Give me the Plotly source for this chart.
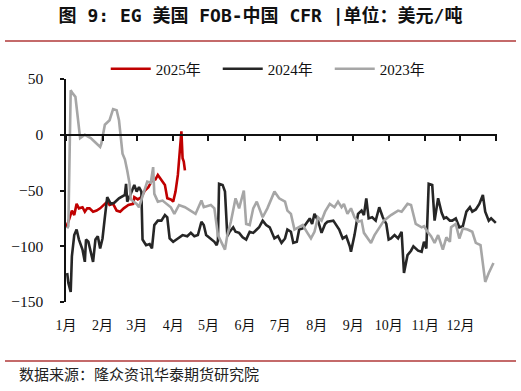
import plotly.graph_objects as go

# ---------------- data (month-day on a common-year axis) ----------------
dates_2025 = ["01-01","01-03","01-06","01-08","01-10","01-12","01-15","01-17","01-19","01-21",
              "01-24","01-27","01-30","02-02","02-05","02-07","02-10","02-13","02-16","02-19",
              "02-23","02-27","02-28","03-02","03-05","03-08","03-11","03-14","03-17","03-19",
              "03-22","03-25","03-27","03-30","04-01","04-03","04-05","04-06","04-08","04-09",
              "04-10","04-11"]
vals_2025 = [-83,-78,-68,-72,-62,-66,-65,-69,-66,-66,
             -69,-68,-66,-63,-60,-63,-62,-68,-69,-66,
             -63,-62,-56,-58,-56,-50,-47,-41,-40,-36,
             -41,-45,-57,-58,-60,-51,-36,-21,3,-21,
             -24,-32]

dates_2024 = ["01-02","01-03","01-05","01-06","01-08","01-10","01-12","01-15","01-17","01-18",
              "01-20","01-22","01-24","01-26","01-28","01-30","02-01","02-03","02-05","02-08",
              "02-11","02-15","02-20","02-21","02-22","02-25","02-28","03-01","03-03","03-05",
              "03-06","03-09","03-12","03-14","03-16","03-19","03-22","03-25","03-27","03-29",
              "04-01","04-05","04-09","04-13","04-16","04-19","04-22","04-25","04-27","04-29",
              "05-03","05-06","05-08","05-09","05-10","05-13","05-15","05-17","05-19","05-22",
              "05-24","05-27","05-30","06-02","06-05","06-08","06-11","06-13","06-16","06-19",
              "06-22","06-26","06-29","07-02","07-05","07-07","07-10","07-12","07-15","07-17",
              "07-20","07-23","07-26","07-28","07-30","08-02","08-05","08-08","08-10","08-15",
              "08-17","08-20","08-23","08-26","08-29","08-30","09-02","09-05","09-08","09-10",
              "09-12","09-14","09-17","09-20","09-23","09-26","09-29","10-01","10-03","10-06",
              "10-09","10-12","10-14","10-17","10-20","10-22","10-26","10-29","10-31","11-02",
              "11-04","11-07","11-09","11-12","11-15","11-17","11-19","11-22","11-24","11-27",
              "11-30","12-03","12-06","12-09","12-11","12-14","12-17","12-20","12-22","12-25",
              "12-27","12-31"]
vals_2024 = [-124,-133,-141,-109,-90,-85,-94,-103,-114,-94,
             -96,-105,-114,-94,-91,-102,-93,-74,-56,-62,
             -61,-57,-54,-44,-60,-53,-45,-51,-47,-51,
             -94,-99,-98,-102,-81,-77,-77,-72,-74,-93,
             -96,-93,-90,-91,-88,-91,-90,-78,-81,-90,
             -93,-96,-99,-95,-44,-45,-51,-91,-87,-83,
             -87,-88,-92,-94,-87,-88,-85,-83,-77,-81,
             -83,-93,-91,-97,-93,-85,-87,-97,-96,-85,
             -84,-80,-75,-80,-71,-77,-88,-80,-78,-77,
             -80,-85,-93,-91,-100,-105,-90,-71,-68,-72,
             -57,-75,-74,-77,-65,-74,-80,-94,-93,-90,
             -93,-87,-124,-108,-104,-100,-104,-105,-96,-102,
             -44,-45,-77,-57,-70,-75,-74,-77,-77,-75,
             -83,-82,-69,-65,-69,-67,-62,-54,-69,-77,
             -75,-79]

dates_2023 = ["01-02","01-03","01-05","01-06","01-09","01-11","01-13","01-17","01-19","01-22",
              "01-26","01-30","01-31","02-03","02-07","02-10","02-13","02-15","02-18","02-20",
              "02-22","02-24","02-25","03-01","03-03","03-08","03-10","03-13","03-15","03-16",
              "03-19","03-23","03-27","03-30","04-02","04-06","04-11","04-16","04-20","04-25",
              "04-27","05-03","05-06","05-09","05-12","05-15","05-17","05-20","05-24","05-27",
              "05-31","06-02","06-05","06-08","06-11","06-13","06-16","06-20","06-26","06-30",
              "07-05","07-07","07-10","07-13","07-16","07-20","07-24","07-27","07-30","08-02",
              "08-05","08-08","08-12","08-16","08-19","08-22","08-24","08-27","08-30","09-02",
              "09-05","09-08","09-10","09-13","09-16","09-19","09-23","09-27","10-03","10-09",
              "10-12","10-14","10-17","10-20","10-22","10-24","10-29","10-31","11-03","11-06",
              "11-09","11-12","11-16","11-19","11-22","11-23","11-27","11-30","12-03","12-07",
              "12-11","12-14","12-18","12-20","12-22","12-25","12-29"]
vals_2023 = [-84,-82,40,38,34,16,-3,0,-1,-3,
             -7,-11,-8,9,13,23,22,13,-17,-22,
             -32,-44,-58,-62,-65,-47,-42,-43,-29,-53,
             -60,-59,-62,-65,-71,-63,-65,-68,-71,-59,
             -65,-63,-66,-90,-96,-103,-90,-78,-57,-66,
             -50,-80,-81,-66,-60,-66,-74,-66,-51,-57,
             -60,-68,-71,-85,-83,-81,-88,-93,-87,-74,
             -77,-69,-62,-65,-60,-65,-62,-71,-66,-74,
             -78,-77,-88,-92,-97,-90,-83,-77,-72,-68,
             -69,-66,-62,-63,-71,-80,-83,-82,-87,-91,
             -97,-90,-103,-92,-96,-83,-80,-93,-84,-85,
             -87,-97,-99,-114,-132,-124,-115]

month_starts = ["01-01","02-01","03-01","04-01","05-01","06-01",
                "07-01","08-01","09-01","10-01","11-01","12-01"]
month_labels = ["1月","2月","3月","4月","5月","6月","7月","8月","9月","10月","11月","12月"]
y_ticks = [50, 0, -50, -100, -150]

series = [
    ("2025年", dates_2025, vals_2025, "#C00000"),
    ("2024年", dates_2024, vals_2024, "#262626"),
    ("2023年", dates_2023, vals_2023, "#A6A6A6"),
]

YEAR = "2000-"  # common leap-year axis

fig = go.Figure()
for name, d, v, c in series:
    fig.add_trace(go.Scatter(x=[YEAR + s for s in d], y=v, mode="lines", name=name,
                             line=dict(color=c, width=2.6)))
# invisible carrier so the zero-line tick axis is drawn
fig.add_trace(go.Scatter(x=[YEAR + s for s in dates_2024], y=vals_2024, mode="lines",
                         xaxis="x2", line=dict(width=0), opacity=0, showlegend=False,
                         hoverinfo="skip"))

serif = "Liberation Serif, Times New Roman, Noto Sans CJK SC, serif"
xr = ["2000-01-01", "2001-01-01"]
fig.update_layout(
    width=521, height=391,
    margin=dict(l=66, r=24, t=79, b=89, autoexpand=False),
    paper_bgcolor="white", plot_bgcolor="white",
    title=dict(text="<b>图 9: EG 美国 FOB-中国 CFR |单位：美元/吨</b>",
               x=0.5, xref="container", xanchor="center",
               y=1 - 16 / 391, yref="container", yanchor="middle",
               font=dict(family="DejaVu Sans Mono, Noto Sans CJK SC", size=18, color="#111111")),
    xaxis=dict(range=xr, type="date", tickvals=[YEAR + m for m in month_starts],
               ticktext=month_labels, showline=False, ticks="", showgrid=False,
               zeroline=False, tickfont=dict(family=serif, size=14, color="#111111"),
               ticklabelstandoff=13),
    xaxis2=dict(range=xr, type="date", overlaying="x", anchor="free", position=0.75,
                tickvals=[YEAR + m for m in month_starts] + ["2000-12-31"],
                showticklabels=False, showline=True, linecolor="#111111", linewidth=2,
                ticks="outside", ticklen=5, tickwidth=1.5, tickcolor="#111111",
                showgrid=False, zeroline=False),
    yaxis=dict(range=[-150, 50], tickvals=y_ticks, showline=True, linecolor="#111111",
               linewidth=1.5, ticks="outside", ticklen=4, tickwidth=1.5, tickcolor="#111111",
               showgrid=False, zeroline=False,
               tickfont=dict(family=serif, size=15.5, color="#111111"),
               ticklabelstandoff=14),
    legend=dict(orientation="h", x=0.482, xanchor="center", y=1.045, yanchor="middle",
                font=dict(family=serif, size=15, color="#111111"),
                bgcolor="rgba(0,0,0,0)", itemwidth=40, entrywidth=57, tracegroupgap=0),
    showlegend=True,
)

rule = "#C46A6A"
fig.add_shape(type="line", xref="paper", yref="paper",
              x0=(5 - 66) / 431, x1=(516 - 66) / 431,
              y0=(302 - 41) / 223, y1=(302 - 41) / 223,
              line=dict(color=rule, width=2))
fig.add_shape(type="line", xref="paper", yref="paper",
              x0=(5 - 66) / 431, x1=(516 - 66) / 431,
              y0=(302 - 361) / 223, y1=(302 - 361) / 223,
              line=dict(color=rule, width=2))
fig.add_annotation(text="数据来源：隆众资讯华泰期货研究院", xref="paper", yref="paper",
                   x=(17 - 66) / 431, y=(302 - 373) / 223, xanchor="left", yanchor="middle",
                   showarrow=False,
                   font=dict(family="Noto Sans CJK SC", size=15, color="#222222"))

fig.write_html("out.html", config={"displayModeBar": False},
               post_script="document.body.style.margin='0';")
